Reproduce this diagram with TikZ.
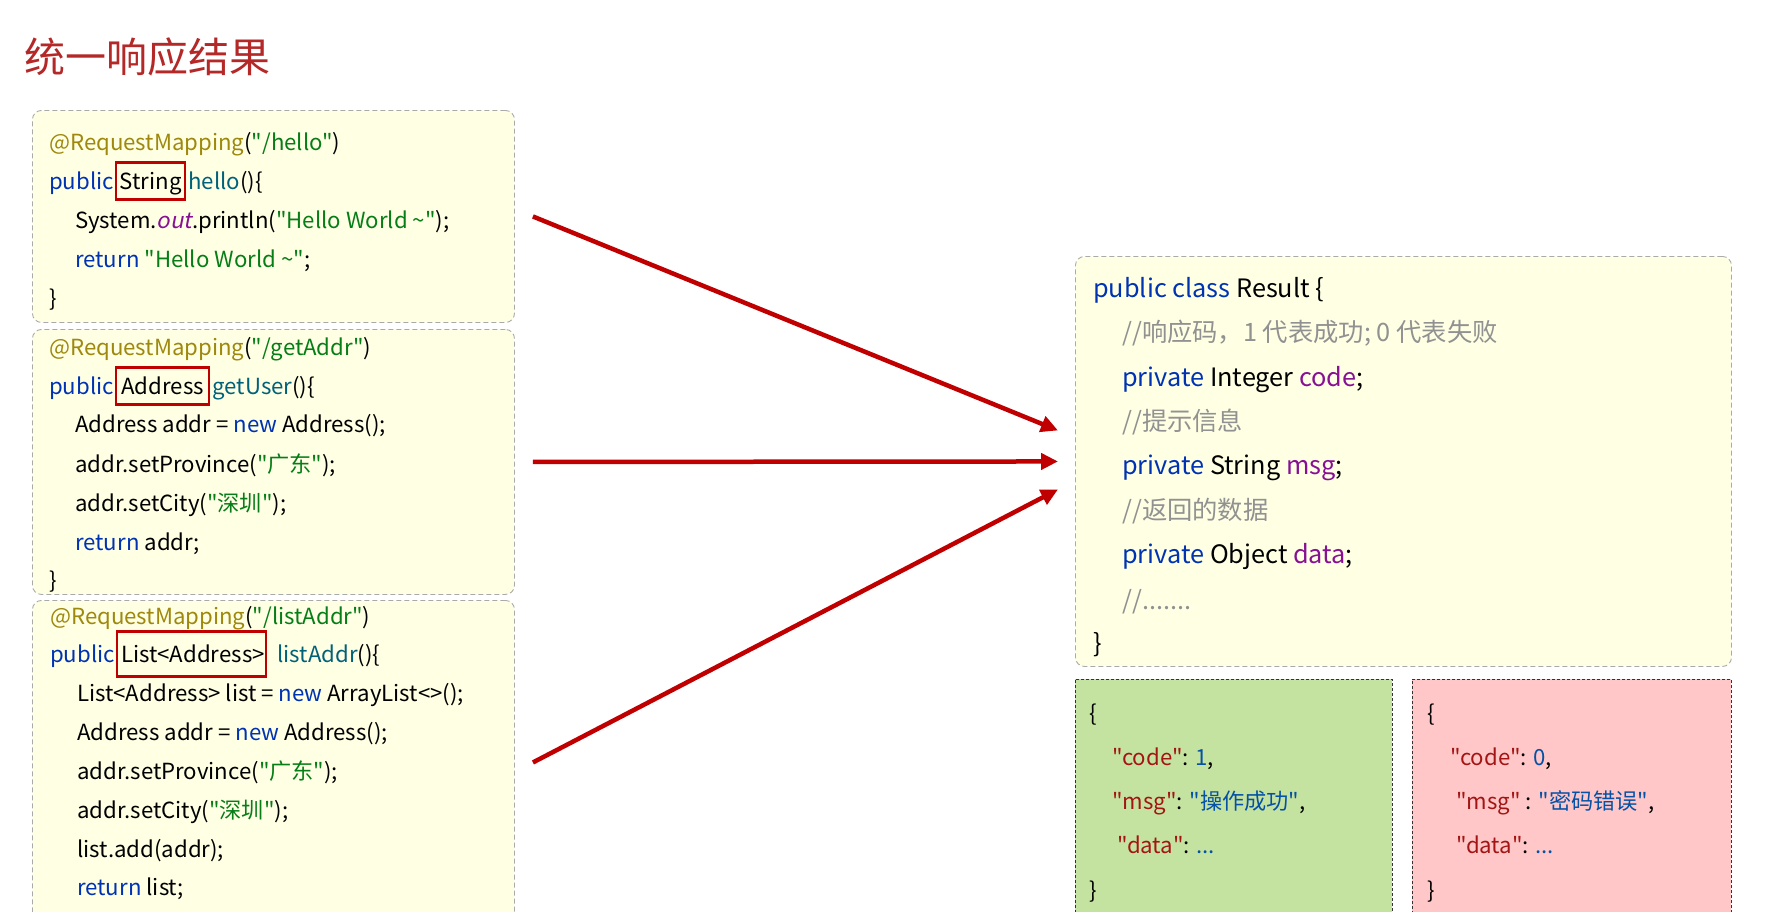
\documentclass[tikz,border=0pt]{standalone}
\usepackage{fontspec}
\setmainfont{Noto Sans CJK SC}[Ligatures=TeXOff, ItalicFont=Noto Sans CJK SC, ItalicFeatures={FakeSlant=0.2}]
\usetikzlibrary{positioning, arrows.meta}

\definecolor{titlered}{RGB}{180,40,40}
\definecolor{codebg}{RGB}{255,255,228}
\definecolor{boxgray}{RGB}{170,170,170}
\definecolor{kwblue}{RGB}{0,51,179}
\definecolor{mthteal}{RGB}{0,98,122}
\definecolor{annolive}{RGB}{158,136,13}
\definecolor{strgreen}{RGB}{6,125,23}
\definecolor{fldpurple}{RGB}{135,16,148}
\definecolor{cmtgray}{RGB}{145,145,145}
\definecolor{keyred}{RGB}{163,21,21}
\definecolor{valblue}{RGB}{4,81,165}
\definecolor{hlred}{RGB}{192,0,0}
\definecolor{okgreen}{RGB}{197,227,160}
\definecolor{errpink}{RGB}{255,199,199}

\newcommand{\kw}[1]{\textcolor{kwblue}{#1}}
\newcommand{\mth}[1]{\textcolor{mthteal}{#1}}
\newcommand{\ann}[1]{\textcolor{annolive}{#1}}
\newcommand{\jstr}[1]{\textcolor{strgreen}{#1}}
\newcommand{\fld}[1]{\textcolor{fldpurple}{#1}}
\newcommand{\cmt}[1]{\textcolor{cmtgray}{#1}}
\newcommand{\jkey}[1]{\textcolor{keyred}{#1}}
\newcommand{\jval}[1]{\textcolor{valblue}{#1}}

\begin{document}
\begin{tikzpicture}[
    x=1pt, y=-1pt,
    codebox/.style={draw=boxgray, dash pattern=on 5pt off 3pt, line width=0.9pt, fill=codebg, rounded corners=9pt, anchor=north west, inner sep=0pt},
    jsonbox/.style={draw=black!80, dash pattern=on 3pt off 2pt, line width=0.8pt, anchor=north west, inner sep=0pt},
    ln/.style={anchor=west, inner sep=0pt, text height=19pt, text depth=2pt, font=\fontsize{22.2}{27}\selectfont},
    rln/.style={anchor=west, inner sep=0pt, text height=21pt, text depth=2.3pt, font=\fontsize{25.3}{30}\selectfont},
    hlbox/.style={draw=hlred, line width=2.2pt, inner xsep=0pt, inner ysep=0pt, text height=19pt, text depth=2pt, minimum height=37pt, font=\fontsize{22.2}{27}\selectfont},
    arr/.style={-{Triangle[length=17pt, width=16pt]}, line width=4.5pt, hlred}
]

\useasboundingbox (0,0) rectangle (1784,911);
\clip (0,0) rectangle (1784,911);
\fill[white] (0,0) rectangle (1784,911);

% Title
\node[anchor=west, inner sep=0pt, text=titlered, font=\fontsize{41}{46}\selectfont] (title) at (24,57) {统一响应结果};

% Controller boxes
\node[codebox, minimum width=482pt, minimum height=212pt] (hello) at (32,110) {};
\node[codebox, minimum width=482pt, minimum height=265pt] (getaddr) at (32,329) {};
\node[codebox, minimum width=482pt, minimum height=324pt] (listaddr) at (32,600) {};

% hello()
\node[ln] (h1) at (49,142) {\ann{@RequestMapping}(\jstr{"/hello"})};
\node[ln] (h2) at (49,181) {\kw{public}};
\node[hlbox, minimum width=69pt, base right=1pt of h2] (h2t) {String};
\node[ln, base right=2pt of h2t] (h2m) {\mth{hello}()\{};
\node[ln] (h3) at (75,220) {System.\fld{\textit{out}}.println(\jstr{"Hello World \textasciitilde"});};
\node[ln] (h4) at (75,259) {\kw{return} \jstr{"Hello World \textasciitilde"};};
\node[ln] (h5) at (49,298) {\}};

% getUser()
\node[ln] (g1) at (49,347) {\ann{@RequestMapping}(\jstr{"/getAddr"})};
\node[ln] (g2) at (49,386) {\kw{public}};
\node[hlbox, minimum width=93pt, base right=1pt of g2] (g2t) {Address};
\node[ln, base right=2pt of g2t] (g2m) {\mth{getUser}()\{};
\node[ln] (g3) at (75,424) {Address addr = \kw{new} Address();};
\node[ln] (g4) at (75,464) {addr.setProvince(\jstr{"广东"});};
\node[ln] (g5) at (75,503) {addr.setCity(\jstr{"深圳"});};
\node[ln] (g6) at (75,542) {\kw{return} addr;};
\node[ln] (g7) at (49,580) {\}};

% listAddr()
\node[ln] (l1) at (50,616) {\ann{@RequestMapping}(\jstr{"/listAddr"})};
\node[ln] (l2) at (50,654) {\kw{public}};
\node[hlbox, inner xsep=4pt, text width=141pt, align=left, minimum height=45pt, base right=1pt of l2] (l2t) {List<Address\rlap{>}};
\node[ln, base right=10pt of l2t] (l2m) {\mth{listAddr}()\{};
\node[ln] (l3) at (77,693) {List<Address> list = \kw{new} ArrayList<>();};
\node[ln] (l4) at (77,732) {Address addr = \kw{new} Address();};
\node[ln] (l5) at (77,771) {addr.setProvince(\jstr{"广东"});};
\node[ln] (l6) at (77,810) {addr.setCity(\jstr{"深圳"});};
\node[ln] (l7) at (77,849) {list.add(addr);};
\node[ln] (l8) at (77,887) {\kw{return} list;};

% Result class
\node[codebox, minimum width=656pt, minimum height=410pt] (result) at (1075,256) {};
\node[rln] (r1) at (1093,288) {\kw{public class} Result \{};
\node[rln] (r2) at (1122,332) {\cmt{//响应码，1 代表成功; 0 代表失败}};
\node[rln] (r3) at (1122,377) {\kw{private} Integer \fld{code};};
\node[rln] (r4) at (1122,421) {\cmt{//提示信息}};
\node[rln] (r5) at (1122,465) {\kw{private} String \fld{msg};};
\node[rln] (r6) at (1122,510) {\cmt{//返回的数据}};
\node[rln] (r7) at (1122,554) {\kw{private} Object \fld{data};};
\node[rln] (r8) at (1122,600) {\cmt{//.......}};
\node[rln] (r9) at (1093,643) {\}};

% JSON samples
\node[jsonbox, fill=okgreen, minimum width=317pt, minimum height=260pt] (okjson) at (1075,679) {};
\node[ln] (s1) at (1089,713) {\{};
\node[ln] (s2) at (1112,757) {\jkey{"code"}: \jval{1},};
\node[ln] (s3) at (1112,801) {\jkey{"msg"}: \jval{"操作成功"},};
\node[ln] (s4) at (1117,845) {\jkey{"data"}: \jval{...}};
\node[ln] (s5) at (1089,890) {\}};

\node[jsonbox, fill=errpink, minimum width=319pt, minimum height=260pt] (errjson) at (1412,679) {};
\node[ln] (e1) at (1427,713) {\{};
\node[ln] (e2) at (1450,757) {\jkey{"code"}: \jval{0},};
\node[ln] (e3) at (1456,801) {\jkey{"msg"} : \jval{"密码错误"},};
\node[ln] (e4) at (1456,845) {\jkey{"data"}: \jval{...}};
\node[ln] (e5) at (1427,890) {\}};

% Arrows
\draw[arr] ([xshift=18pt]hello.east) -- ([xshift=-17pt, yshift=31pt]result.west);
\draw[arr] ([xshift=18pt]getaddr.east) -- ([xshift=-17pt]result.west);
\draw[arr] ([xshift=18pt]listaddr.east) -- ([xshift=-17pt, yshift=-28pt]result.west);

\end{tikzpicture}
\end{document}
